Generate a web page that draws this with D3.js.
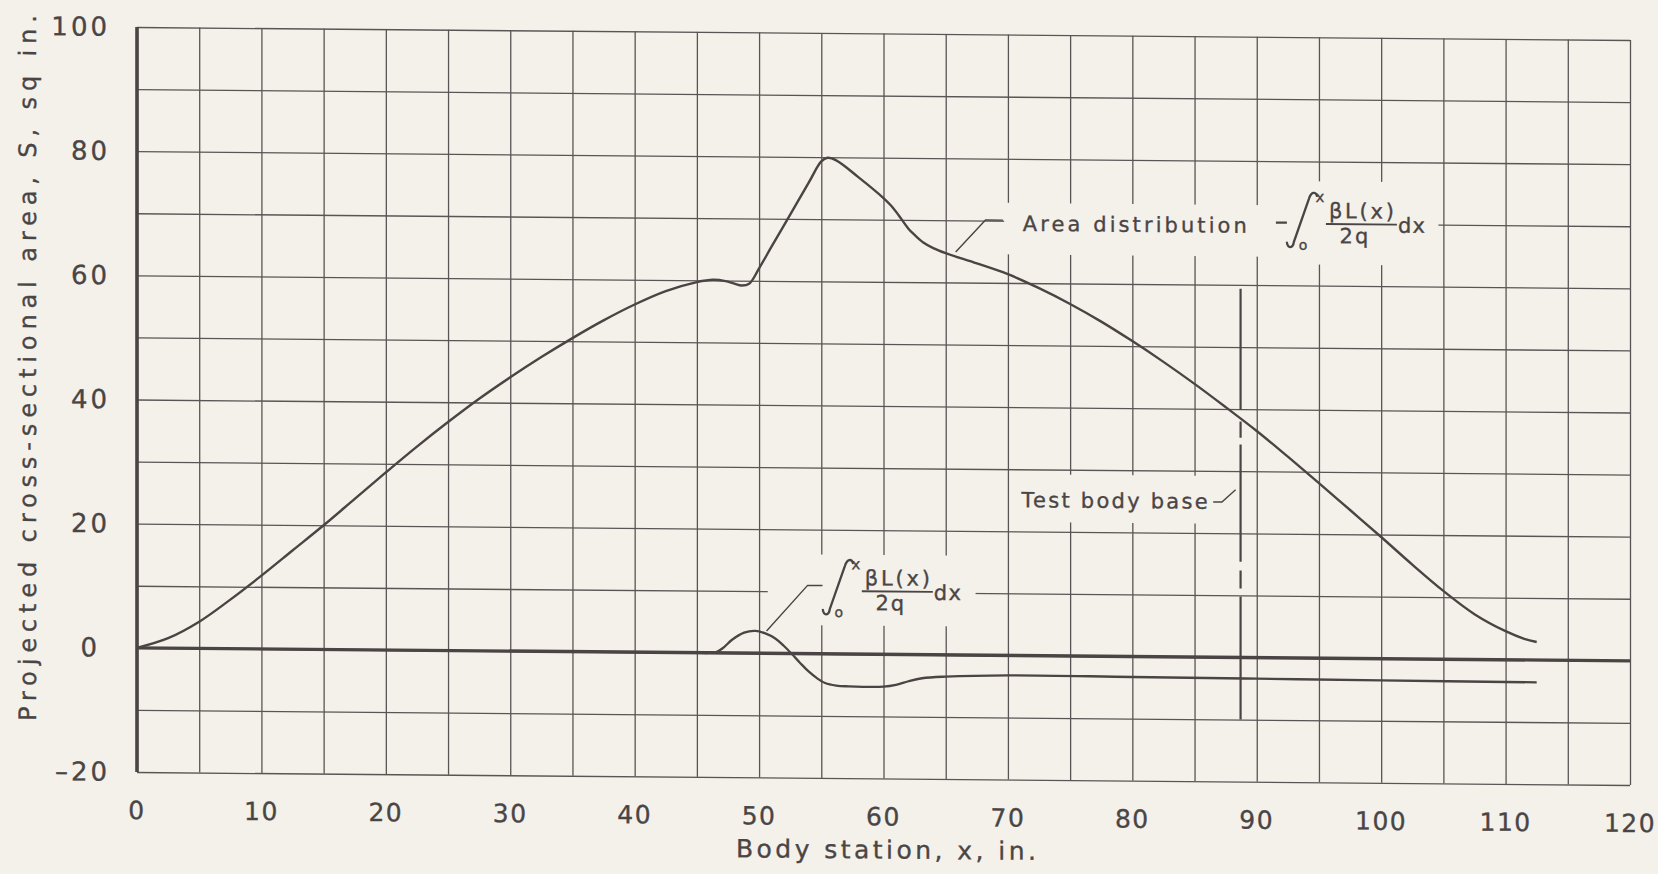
<!DOCTYPE html>
<html>
<head>
<meta charset="utf-8">
<script src="https://cdn.jsdelivr.net/npm/d3@7"></script>
<style>
html, body { margin: 0; padding: 0; background: #f4f1ea; }
svg { display: block; }
text { font-family: "DejaVu Sans", sans-serif; fill: #4a4545; stroke: #4a4545; stroke-width: 0.35px; }
</style>
</head>
<body>
<svg id="chart" width="1658" height="874"></svg>
<script>
// ---------------- data ----------------
const xTickValues = [0, 10, 20, 30, 40, 50, 60, 70, 80, 90, 100, 110, 120];
const yTickValues = [-20, 0, 20, 40, 60, 80, 100];
const xGridValues = [0, 5, 10, 15, 20, 25, 30, 35, 40, 45, 50, 55, 60, 65, 70, 75, 80, 85, 90, 95, 100, 105, 110, 115, 120];
const yGridValues = [-20, -10, 0, 10, 20, 30, 40, 50, 60, 70, 80, 90, 100];

// Area distribution  -∫ βL(x)/2q dx
const areaX = [0, 2.5, 5, 7.5, 10, 12.5, 15, 17.5, 20, 22.5, 25, 27.5, 30, 32.5, 35, 37.5, 40, 42.5, 45, 46.3, 47.3, 48.0, 48.6, 49.2, 50, 51, 52.5, 54, 55, 55.5, 56.2, 58, 60, 60.6, 61.2, 62, 62.5, 63.2, 64, 65, 67.5, 70, 72.5, 75, 77.5, 80, 82.5, 85, 87.5, 90, 92.5, 95, 97.5, 100, 102.5, 105, 107.5, 110, 111.5, 112.5];
const areaS = [0, 1.6, 4.3, 7.9, 11.8, 15.9, 20.0, 24.3, 28.6, 32.8, 36.8, 40.6, 44.1, 47.4, 50.5, 53.4, 56.0, 58.2, 59.7, 60.1, 59.9, 59.5, 59.2, 59.5, 62.0, 65.5, 70.7, 75.9, 79.3, 79.9, 79.5, 76.8, 73.5, 72.3, 70.8, 68.6, 67.6, 66.4, 65.5, 64.7, 63.1, 61.4, 59.2, 56.7, 53.9, 50.8, 47.5, 44.0, 40.3, 36.5, 32.4, 28.2, 23.9, 19.6, 15.2, 11.0, 7.3, 4.6, 3.4, 2.9];

// ∫ βL(x)/2q dx
const liftX = [45, 46.5, 47.1, 47.8, 48.8, 49.7, 50.5, 51.3, 52, 52.6, 53.3, 54, 54.7, 55.3, 56.2, 57.2, 60, 61, 62, 63.1, 65, 70, 80, 90, 100, 112.5];
const liftS = [0, 0.1, 0.8, 2.1, 3.3, 3.6, 3.2, 2.4, 1.2, 0, -1.5, -2.9, -4.0, -4.7, -5.1, -5.2, -5.2, -4.9, -4.3, -3.8, -3.5, -3.2, -3.3, -3.4, -3.5, -3.6];

// Test body base marker (x position and drawn pieces along S)
const baseStation = 88.7;
const baseSegments = [[59.4, 39.9], [38.0, 35.4], [34.3, 15.4], [14.0, 11.1], [9.8, -10]];

// Labels
const xTitle = "Body station, x, in.";
const yTitle = "Projected cross-sectional area, S, sq in.";
const areaLabel = "Area distribution";
const baseLabel = "Test body base";

// ---------------- layout ----------------
const svg = d3.select("#chart");
const originX = 137;
const skewDeg = 0.499;
const plotW = 1493;

const x = d3.scaleLinear().domain([0, 120]).range([0, plotW]);
const y = d3.scaleLinear().domain([-20, 100]).range([772, 27]);

const bg = "#f4f1ea";
const ink = "#4a4444";
const gridInk = "#5a5555";

const g = svg.append("g").attr("transform", `translate(${originX},0) skewY(${skewDeg})`);

// grid via axes
g.append("g")
  .attr("transform", `translate(0,${y(-20)})`)
  .call(d3.axisBottom(x).tickValues(xGridValues).tickSize(-(y(-20) - y(100))).tickFormat(""))
  .call(s => s.select(".domain").remove())
  .call(s => s.selectAll("line").attr("stroke", gridInk).attr("stroke-width", 1.3));

g.append("g")
  .call(d3.axisLeft(y).tickValues(yGridValues).tickSize(-plotW).tickFormat(""))
  .call(s => s.select(".domain").remove())
  .call(s => s.selectAll("line").attr("stroke", gridInk).attr("stroke-width", 1.3));

// label masks (paste-up patches over the grid)
const masks = [
  [69.7, 104.6, 64.6, 72.9],
  [92.0, 101.0, 63.4, 76.8],
  [54.5, 67.4, 4.6, 16.0],
  [50.7, 54.5, 9.0, 11.6],
  [70.4, 87.3, 21.5, 29.2]
];
g.append("g").selectAll("rect").data(masks).join("rect")
  .attr("x", d => x(d[0])).attr("width", d => x(d[1]) - x(d[0]))
  .attr("y", d => y(d[3])).attr("height", d => y(d[2]) - y(d[3]))
  .attr("fill", bg);

// heavy axis lines
g.append("line").attr("x1", x(0)).attr("x2", x(0)).attr("y1", y(100)).attr("y2", y(-20))
  .attr("stroke", ink).attr("stroke-width", 3.6);
g.append("line").attr("x1", x(0)).attr("x2", x(120)).attr("y1", y(0)).attr("y2", y(0))
  .attr("stroke", ink).attr("stroke-width", 3.4);

// curves
const line = d3.line().x(d => x(d[0])).y(d => y(d[1])).curve(d3.curveCatmullRom.alpha(0.5));
g.append("path").datum(d3.zip(areaX, areaS)).attr("d", line)
  .attr("fill", "none").attr("stroke", ink).attr("stroke-width", 2.4).attr("stroke-linejoin", "round");
g.append("path").datum(d3.zip(liftX, liftS)).attr("d", line)
  .attr("fill", "none").attr("stroke", ink).attr("stroke-width", 2.3).attr("stroke-linejoin", "round");

// test body base
g.append("g").selectAll("line").data(baseSegments).join("line")
  .attr("x1", x(baseStation)).attr("x2", x(baseStation))
  .attr("y1", d => y(d[0])).attr("y2", d => y(d[1]))
  .attr("stroke", ink).attr("stroke-width", 2.2);

// leaders
const leaderLine = d3.line().x(d => x(d[0])).y(d => y(d[1]));
const leaders = [
  [[65.8, 64.9], [68.2, 70.1], [69.6, 70.1]],
  [[50.6, 3.6], [53.9, 11.0], [55.1, 11.0]],
  [[86.5, 25.0], [87.2, 25.0], [88.3, 27.0]]
];
g.append("g").selectAll("path").data(leaders).join("path")
  .attr("d", leaderLine).attr("fill", "none").attr("stroke", ink).attr("stroke-width", 1.4);

// tick labels
g.append("g").selectAll("text").data(xTickValues).join("text")
  .attr("x", d => x(d)).attr("y", y(-20) + 47)
  .attr("text-anchor", "middle").attr("font-size", 25).attr("letter-spacing", 1.5)
  .text(d => d);
g.append("g").selectAll("text").data(yTickValues).join("text")
  .attr("x", d => d === 0 ? -37 : -27).attr("y", d => y(d) + 9)
  .attr("text-anchor", "end").attr("font-size", 26).attr("letter-spacing", 3)
  .text(d => d < 0 ? "–" + Math.abs(d) : d);

// axis titles
g.append("text").attr("x", x(60.2)).attr("y", y(-20) + 80)
  .attr("text-anchor", "middle").attr("font-size", 25)
  .attr("textLength", 300).attr("lengthAdjust", "spacing").text(xTitle);
g.append("text").attr("transform", `translate(-101,369) rotate(-90)`)
  .attr("text-anchor", "middle").attr("font-size", 24)
  .attr("textLength", 706).attr("lengthAdjust", "spacing").text(yTitle);

// annotation texts
g.append("text").attr("x", x(71.2)).attr("y", y(68.4))
  .attr("font-size", 21).attr("textLength", 224).attr("lengthAdjust", "spacing").text(areaLabel);
g.append("text").attr("x", x(71.1)).attr("y", y(23.9))
  .attr("font-size", 21).attr("textLength", 186).attr("lengthAdjust", "spacing").text(baseLabel);

function formula(anchor, withMinus) {
  const f = g.append("g").attr("transform", `translate(${x(anchor[0])},${y(anchor[1])})`);
  if (withMinus) {
    f.append("line").attr("x1", -53).attr("x2", -42).attr("y1", 5).attr("y2", 5)
      .attr("stroke", ink).attr("stroke-width", 2.2);
  }
  f.append("path")
    .attr("d", "M-42,25 C-41,31 -36,31 -35,24 L-20,-19 C-18,-26 -13,-27 -12,-22")
    .attr("fill", "none").attr("stroke", ink).attr("stroke-width", 2.3).attr("stroke-linecap", "round");
  f.append("text").attr("x", -9).attr("y", -16).attr("text-anchor", "middle").attr("font-size", 15).text("x");
  f.append("text").attr("x", -26).attr("y", 32).attr("text-anchor", "middle").attr("font-size", 14).text("o");
  f.append("text").attr("x", 0).attr("y", 0).attr("font-size", 21)
    .attr("textLength", 65).attr("lengthAdjust", "spacing").text("βL(x)");
  f.append("line").attr("x1", -3).attr("x2", 68).attr("y1", 6).attr("y2", 6)
    .attr("stroke", ink).attr("stroke-width", 1.9);
  f.append("text").attr("x", 26).attr("y", 25).attr("text-anchor", "middle").attr("font-size", 21)
    .attr("letter-spacing", 2).text("2q");
  f.append("text").attr("x", 69).attr("y", 14).attr("font-size", 21)
    .attr("textLength", 27).attr("lengthAdjust", "spacing").text("dx");
}
formula([95.8, 70.9], true);
formula([58.5, 11.1], false);
</script>
</body>
</html>
